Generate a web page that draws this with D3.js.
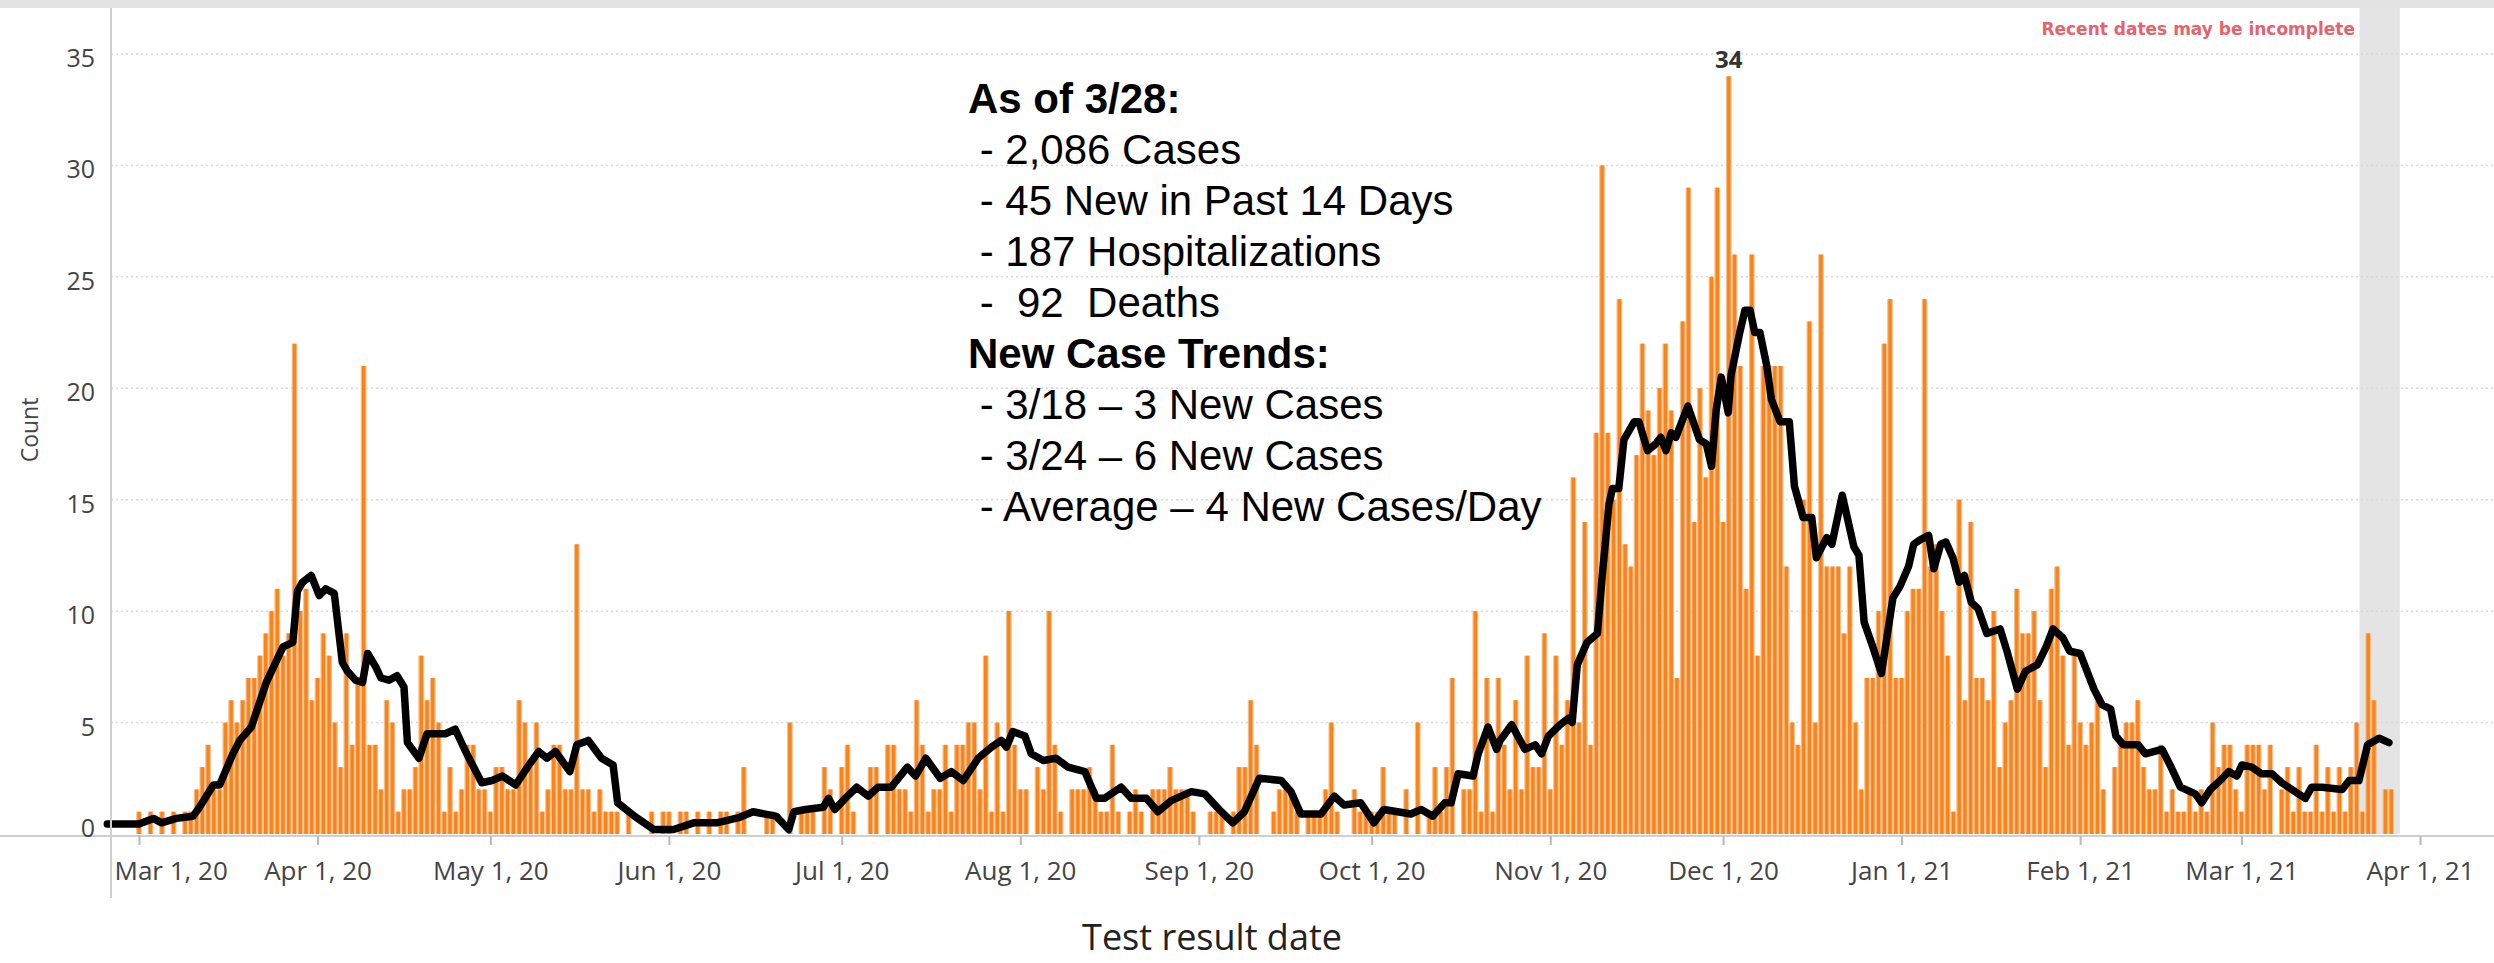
<!DOCTYPE html>
<html>
<head>
<meta charset="utf-8">
<script src="https://cdn.jsdelivr.net/npm/d3@7"></script>
<style>
  html, body { margin: 0; padding: 0; background: #fff; }
  svg { display: block; }
</style>
</head>
<body>
<svg id="chart" width="2494" height="963"></svg>
<script>
// ---- daily new cases by test result date, one array per month ----
const mar20 = [1,0,1,0,1,0,1,0,1,1, 2,3,4,2,2,5,6,5,6,7, 7,8,9,10,11,8,9,22,10,11, 6];
const apr20 = [7,9,8,5,3,9,4,7,21,4, 4,2,6,5,1,2,2,3,8,6, 7,5,1,3,1,2,4,4,2,2];
const may20 = [1,3,3,2,2,6,5,3,5,1, 2,4,4,2,2,13,2,2,1,2, 1,1,1,0,1,0,0,0,1,0, 1];
const jun20 = [1,0,1,1,0,1,0,1,0,1, 1,0,1,3,0,0,0,1,1,0, 0,5,0,1,1,1,0,3,2,0];
const jul20 = [3,4,1,0,0,3,3,0,4,4, 2,2,1,6,4,1,2,2,4,1, 4,4,5,5,2,8,1,5,1,10, 4];
const aug20 = [2,2,0,3,2,10,4,1,0,2, 2,2,3,2,1,1,4,1,0,1, 2,1,0,2,2,2,3,2,2,2, 1];
const sep20 = [0,0,1,1,1,0,1,3,3,6, 4,0,0,1,2,2,2,1,0,1, 1,1,2,5,1,0,0,2,1,1];
const oct20 = [1,1,3,1,1,0,2,0,5,0, 1,3,1,3,7,0,2,2,10,1, 7,1,7,4,2,6,2,8,3,3, 9];
const nov20 = [2,8,4,6,16,5,14,4,18,30, 18,15,24,13,12,17,22,19,17,20, 22,19,7,23,29,14,20,16,25,29];
const dec20 = [14,34,26,21,11,26,8,21,21,21, 21,12,5,4,15,23,5,26,12,12, 12,9,12,5,2,7,7,10,22,24, 7];
const jan21 = [7,10,11,11,24,12,13,10,8,1, 15,6,14,7,7,6,10,3,5,6, 11,9,9,10,6,3,11,12,8,4, 8];
const feb21 = [5,4,5,6,2,0,3,4,5,5, 6,3,2,2,4,1,2,1,1,2, 1,2,1,5,3,4,4,2];
const mar21 = [1,4,4,4,2,4,0,2,3,1, 3,1,1,4,1,3,1,3,1,3, 5,1,9,6,0,2,2,0];

const monthStarts = ["2020-03-01","2020-04-01","2020-05-01","2020-06-01","2020-07-01","2020-08-01",
  "2020-09-01","2020-10-01","2020-11-01","2020-12-01","2021-01-01","2021-02-01","2021-03-01"];
const monthValues = [mar20, apr20, may20, jun20, jul20, aug20, sep20, oct20, nov20, dec20, jan21, feb21, mar21];

// ---- moving average line: [days after 2020-03-01, count] ----
const trend = [
  [-5.5,0.45],[0,0.45],[2.5,0.7],[3.9,0.5],[6.5,0.7],[9.4,0.8],[10.5,1.2],[12.9,2.2],[14,2.2],[16.3,3.6],
  [17.5,4.2],[19.5,4.8],[22.1,6.8],[25,8.4],[26.7,8.6],[27.5,10.9],[28.4,11.3],[29.9,11.6],[31.3,10.7],[32.4,11.0],
  [33.9,10.8],[35.3,7.7],[36.2,7.3],[37.6,6.9],[38.8,6.8],[39.7,8.1],[41.1,7.5],[42,7.0],[43.4,6.9],[44.8,7.1],
  [46,6.6],[46.6,4.1],[48.6,3.4],[50,4.5],[53.2,4.5],[54.9,4.7],[56.7,3.7],[59.5,2.3],[61.3,2.4],[63.1,2.6],
  [65.4,2.2],[67.7,3.1],[69.4,3.7],[70.8,3.4],[72.3,3.7],[74.8,2.8],[76,4.0],[78,4.2],[80.3,3.4],[82.3,3.1],
  [83.1,1.4],[86,0.8],[89.4,0.2],[92.8,0.2],[96.3,0.5],[100.3,0.5],[104.3,0.75],[106.6,1.0],[110.6,0.8],[112.8,0.2],
  [113.7,1.0],[115.7,1.1],[118.8,1.2],[119.7,1.6],[120.8,1.1],[122.6,1.6],[124.6,2.1],[126.6,1.7],[128.3,2.1],[130.6,2.1],
  [133.4,3.0],[134.8,2.6],[136.6,3.4],[139.1,2.5],[141,2.8],[143.1,2.4],[145.7,3.4],[148,3.9],[149.7,4.2],[150.6,3.9],
  [151.7,4.6],[153.8,4.4],[154.9,3.6],[157,3.3],[159.2,3.4],[161.3,3.0],[164.2,2.8],[166.2,1.6],[167.6,1.6],[170.5,2.1],
  [172.3,1.6],[174.9,1.6],[176.9,1.0],[179.2,1.5],[182.7,1.9],[185,1.8],[187.9,1.0],[189.9,0.5],[191.9,1.0],[194.5,2.5],
  [198.3,2.4],[200,1.9],[201.7,0.9],[205.2,0.9],[207.5,1.7],[209.2,1.3],[212.1,1.4],[214.4,0.5],[216.1,1.1],[218.5,1.0],
  [220.8,0.9],[222.6,1.1],[224.6,0.8],[226.7,1.4],[227.8,1.4],[229,2.7],[231.6,2.6],[232.5,3.6],[234.2,4.8],[235.7,3.8],
  [236.3,4.2],[238.3,4.9],[240.6,3.8],[242.4,4.0],[243.5,3.6],[244.7,4.4],[246.7,4.9],[248.2,5.2],[248.8,5.0],[249.7,7.6],
  [251.4,8.6],[253.2,9.0],[254,11.5],[255.2,14.8],[255.8,15.5],[256.9,15.5],[257.8,17.7],[259.6,18.5],[260.4,18.5],[261.9,17.2],
  [263.3,17.5],[264.2,17.8],[265.1,17.2],[266,18.0],[266.8,17.8],[268.9,19.2],[270.9,17.7],[272.1,17.5],[273,16.5],[273.8,19.0],
  [274.7,20.5],[275.9,18.9],[276.4,20.6],[277.9,22.5],[278.8,23.5],[279.7,23.5],[280.5,22.5],[281.4,22.5],[282.6,21],[283.4,19.5],
  [284.9,18.5],[286.5,18.5],[287.4,15.6],[288.9,14.2],[290.4,14.2],[291.2,12.4],[293,13.3],[293.9,13.0],[295.7,15.2],[297.7,12.9],
  [298.6,12.5],[299.5,9.5],[301,8.4],[302.5,7.2],[304.5,10.6],[305.7,11.1],[307.2,12.0],[308.1,13.0],[309.2,13.2],[310.7,13.4],
  [311.6,11.9],[312.8,13.0],[313.7,13.1],[314.9,12.4],[316,11.3],[316.9,11.6],[318.1,10.4],[319.3,10.1],[320.8,9.0],[323.1,9.2],
  [324.3,8.2],[326.1,6.5],[327.5,7.3],[329.6,7.6],[331.1,8.4],[332.3,9.2],[334,8.8],[335.2,8.2],[337,8.1],[339.4,6.5],
  [340.8,5.8],[342.3,5.6],[343.2,4.4],[344.5,4.0],[347.1,4.0],[348.3,3.6],[351.2,3.8],[352.6,3.1],[354.4,2.1],[357,1.8],
  [358.1,1.4],[359.6,2.0],[361.3,2.4],[362.8,2.8],[364.2,2.6],[365.1,3.1],[366.8,3.0],[368.5,2.7],[370.3,2.7],[372,2.3],
  [374.3,1.9],[376.1,1.6],[377.2,2.1],[379,2.1],[382.5,2.0],[383.7,2.4],[385.4,2.4],[386.9,4.0],[388.9,4.3],[390.6,4.1]
];

const yTicks = [0, 5, 10, 15, 20, 25, 30, 35];
const summary = [
  { text: "As of 3/28:", bold: true },
  { text: " - 2,086 Cases" },
  { text: " - 45 New in Past 14 Days" },
  { text: " - 187 Hospitalizations" },
  { text: " -  92  Deaths" },
  { text: "New Case Trends:", bold: true },
  { text: " - 3/18 \u2013 3 New Cases" },
  { text: " - 3/24 \u2013 6 New Cases" },
  { text: " - Average \u2013 4 New Cases/Day" }
];
const noteText = "Recent dates may be incomplete";
const xTitle = "Test result date";
const yTitle = "Count";
const incompleteDays = 7;

// ---- layout ----
const W = 2494, H = 963;
const paneLeft = 111, paneTop = 8, axisY = 836;
const orange = "#fc8417", peach = "#f0c096";
const axisFont = "'Open Sans', 'Noto Sans', sans-serif";

const parse = d3.utcParse("%Y-%m-%d");
const origin = parse("2020-03-01");
const dayToDate = d => new Date(origin.getTime() + d * 864e5);

const daily = [];
monthValues.forEach((vals, m) => {
  const first = parse(monthStarts[m]);
  vals.forEach((v, i) => daily.push({ date: d3.utcDay.offset(first, i), value: v }));
});

const x = d3.scaleUtc()
  .domain([parse("2020-03-01"), parse("2021-04-01")])
  .range([139, 2420]);
const y = d3.scaleLinear().domain([0, 35]).range([834, 54]);
const dayW = x(dayToDate(1)) - x(dayToDate(0));

const svg = d3.select("#chart");

// top strip
svg.append("rect").attr("x", 0).attr("y", 0).attr("width", W).attr("height", paneTop).attr("fill", "#e3e3e3");

// incomplete-dates band (last 7 days of data)
const lastDate = daily[daily.length - 1].date;
const bandFrom = d3.utcHour.offset(lastDate, -(incompleteDays - 1) * 24 - 12);
const bandTo = d3.utcHour.offset(lastDate, 12);
svg.append("rect")
  .attr("x", x(bandFrom)).attr("y", paneTop)
  .attr("width", x(bandTo) - x(bandFrom)).attr("height", y(0) - paneTop)
  .attr("fill", "#e4e4e4");

// gridlines
svg.append("g").selectAll("line").data(yTicks.filter(t => t > 0)).join("line")
  .attr("x1", paneLeft).attr("x2", W)
  .attr("y1", d => y(d)).attr("y2", d => y(d))
  .attr("stroke", "#d8d8d8").attr("stroke-width", 1.5).attr("stroke-dasharray", "2 3");

// bars: pale edge + orange core
const barData = daily.filter(d => d.value > 0);
const bars = svg.append("g");
bars.selectAll("rect.edge").data(barData).join("rect").attr("class", "edge")
  .attr("x", d => x(d.date) - dayW / 2).attr("width", dayW)
  .attr("y", d => y(d.value)).attr("height", d => y(0) - y(d.value))
  .attr("fill", peach);
bars.selectAll("rect.core").data(barData).join("rect").attr("class", "core")
  .attr("x", d => x(d.date) - dayW * 0.3).attr("width", dayW * 0.6)
  .attr("y", d => y(d.value)).attr("height", d => y(0) - y(d.value))
  .attr("fill", orange);

// moving average
const line = d3.line().x(d => x(dayToDate(d[0]))).y(d => y(d[1]));
svg.append("path").datum(trend)
  .attr("d", line)
  .attr("fill", "none").attr("stroke", "#000").attr("stroke-width", 7.5)
  .attr("stroke-linejoin", "round").attr("stroke-linecap", "round");

// axis lines
svg.append("line").attr("x1", 0).attr("x2", W).attr("y1", axisY).attr("y2", axisY)
  .attr("stroke", "#cfcfcf").attr("stroke-width", 2);
svg.append("line").attr("x1", paneLeft).attr("x2", paneLeft).attr("y1", paneTop).attr("y2", 898)
  .attr("stroke", "#cfcfcf").attr("stroke-width", 2);

// x axis
const xAxis = svg.append("g").attr("transform", `translate(0,${axisY})`)
  .call(d3.axisBottom(x)
    .ticks(d3.utcMonth.every(1))
    .tickFormat(d3.utcFormat("%b %-d, %y"))
    .tickSize(9).tickPadding(10));
xAxis.select(".domain").remove();
xAxis.selectAll(".tick line").attr("stroke", "#b8b8b8").attr("stroke-width", 2);
xAxis.selectAll(".tick text")
  .attr("fill", "#444").style("font-family", axisFont).style("font-size", "26px")
  .attr("dy", "0.95em");
// first label sits inside the pane, left aligned
xAxis.select(".tick text").attr("text-anchor", "start").attr("x", paneLeft + 3 - x(parse("2020-03-01")));

// y tick labels
svg.append("g").selectAll("text").data(yTicks).join("text")
  .attr("x", 95).attr("y", d => d === 0 ? y(d) - 7 : y(d) + 3)
  .attr("text-anchor", "end").attr("dominant-baseline", "central")
  .attr("fill", "#444").style("font-family", axisFont).style("font-size", "25px")
  .text(d => d);

// axis titles
svg.append("text").attr("transform", "translate(29,430) rotate(-90)")
  .attr("text-anchor", "middle").attr("dominant-baseline", "central")
  .attr("fill", "#444").style("font-family", axisFont).style("font-size", "23px")
  .text(yTitle);
svg.append("text").attr("x", 1212).attr("y", 950)
  .attr("text-anchor", "middle")
  .attr("fill", "#222").style("font-family", axisFont).style("font-size", "36px")
  .text(xTitle);

// peak label
const peak = d3.greatest(daily, d => d.value);
svg.append("text").attr("x", x(peak.date)).attr("y", y(peak.value) - 8)
  .attr("text-anchor", "middle")
  .attr("fill", "#333").style("font-family", axisFont).style("font-size", "24px").style("font-weight", 700)
  .text(peak.value);

// recent-dates note
svg.append("text").attr("x", 2355).attr("y", 35)
  .attr("text-anchor", "end")
  .attr("fill", "#e8626b").style("font-family", "'DejaVu Sans', sans-serif")
  .style("font-size", "17px").style("font-weight", 700)
  .text(noteText);

// summary annotation
svg.append("g").selectAll("text").data(summary).join("text")
  .attr("x", 968).attr("y", (d, i) => 113 + i * 51)
  .style("white-space", "pre")
  .attr("fill", "#000").style("font-family", "'Liberation Sans', Arial, sans-serif")
  .style("font-size", "42px").style("font-weight", d => d.bold ? 700 : 400)
  .text(d => d.text);
</script>
</body>
</html>
